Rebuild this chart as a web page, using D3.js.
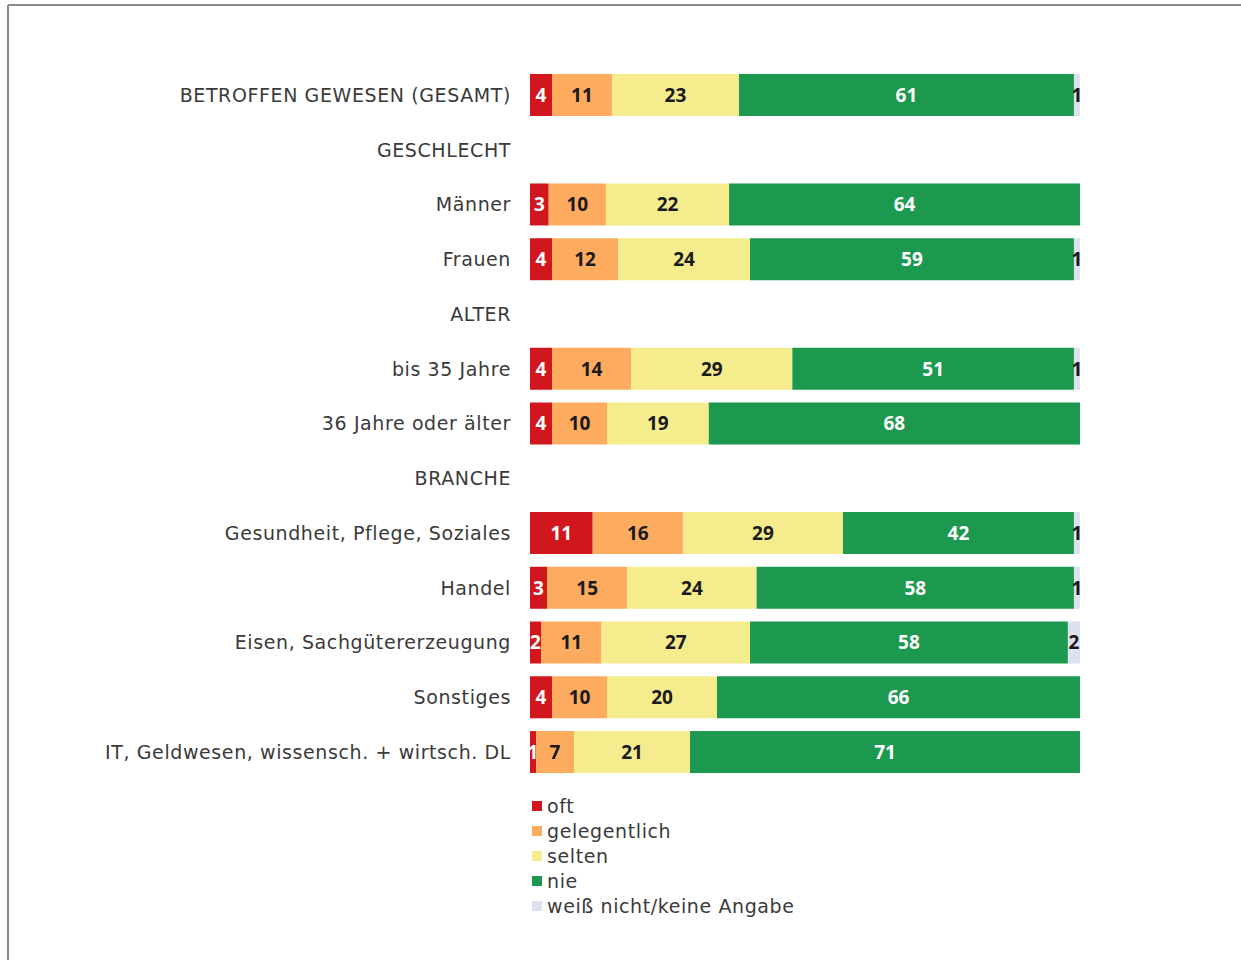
<!DOCTYPE html>
<html>
<head>
<meta charset="utf-8">
<script src="https://cdn.jsdelivr.net/npm/d3@7"></script>
<style>
  body { margin: 0; background: #fff; }
  svg text { font-family: "Open Sans", "DejaVu Sans", sans-serif; }
  svg text.cat { font-family: "DejaVu Sans", sans-serif; letter-spacing: 0.6px; }
</style>
</head>
<body>
<div id="chart"></div>
<script>
// rows of the chart, headers have no values
var categories = [
  'BETROFFEN GEWESEN (GESAMT)', 'GESCHLECHT', 'Männer', 'Frauen',
  'ALTER', 'bis 35 Jahre', '36 Jahre oder älter',
  'BRANCHE', 'Gesundheit, Pflege, Soziales', 'Handel',
  'Eisen, Sachgütererzeugung', 'Sonstiges', 'IT, Geldwesen, wissensch. + wirtsch. DL'
];
var headers = ['GESCHLECHT', 'ALTER', 'BRANCHE'];

var seriesNames = ['oft', 'gelegentlich', 'selten', 'nie', 'weiß nicht/keine Angabe'];

// percent values per series, one entry per category (null = header row)
var oft          = [4.0, null, 3.4, 4.0, null, 4.0, 4.0, null, 11.4, 3.1, 2.0, 4.0, 1.1];
var gelegentlich = [10.9, null, 10.4, 12.0, null, 14.4, 10.0, null, 16.4, 14.6, 11.0, 10.0, 6.9];
var selten       = [23.1, null, 22.4, 24.0, null, 29.3, 18.5, null, 29.1, 23.5, 27.0, 20.0, 21.1];
var nie          = [60.9, null, 63.8, 58.9, null, 51.2, 67.5, null, 42.0, 57.7, 57.8, 66.0, 70.9];
var weissNicht   = [1.1, null, 0, 1.1, null, 1.1, 0, null, 1.1, 1.1, 2.2, 0, 0];

var colors = ['#d1161d', '#fdab5e', '#f5ec8d', '#1d984f', '#dde1ef'];
var labelColors = ['#fff', '#1a1a1a', '#1a1a1a', '#fff', '#1a1a1a'];

var width = 1241, height = 960;

var svg = d3.select('#chart').append('svg')
    .attr('width', width)
    .attr('height', height);

// page frame
svg.append('line').attr('x1', 8).attr('x2', width).attr('y1', 5).attr('y2', 5)
    .attr('stroke', '#8a8a8a').attr('stroke-width', 2);
svg.append('line').attr('x1', 8).attr('x2', 8).attr('y1', 5).attr('y2', height)
    .attr('stroke', '#8a8a8a').attr('stroke-width', 2);

var x = d3.scaleLinear().domain([0, 100]).range([530, 1080]);
var y = d3.scaleBand().domain(categories).range([67.6, 779.4])
    .paddingInner(0.233).paddingOuter(0.1165);

var allSeries = [oft, gelegentlich, selten, nie, weissNicht];
var rows = categories.map(function (c, i) {
  var row = { cat: c };
  seriesNames.forEach(function (s, j) { row[s] = allSeries[j][i] || 0; });
  return row;
}).filter(function (r) { return headers.indexOf(r.cat) < 0; });

var stacked = d3.stack().keys(seriesNames)(rows);

var layers = svg.append('g').selectAll('g')
  .data(stacked)
  .enter().append('g')
    .attr('fill', function (d, i) { return colors[i]; });

layers.selectAll('rect')
  .data(function (d) { return d; })
  .enter().append('rect')
    .attr('x', function (d) { return x(d[0]); })
    .attr('y', function (d) { return y(d.data.cat); })
    .attr('width', function (d) { return x(d[1]) - x(d[0]); })
    .attr('height', y.bandwidth());

layers.each(function (layer, i) {
  d3.select(this).selectAll('text')
    .data(layer.filter(function (d) { return d[1] - d[0] > 0; }))
    .enter().append('text')
      .attr('x', function (d) { return (x(d[0]) + x(d[1])) / 2; })
      .attr('y', function (d) { return y(d.data.cat) + y.bandwidth() / 2; })
      .attr('dy', '0.36em')
      .attr('text-anchor', 'middle')
      .attr('fill', labelColors[i])
      .style('font-size', '19px')
      .style('font-weight', 'bold')
      .text(function (d) { return Math.round(d[1] - d[0]); });
});

// category labels
svg.append('g').selectAll('text')
  .data(categories)
  .enter().append('text')
    .attr('class', 'cat')
    .attr('x', 511)
    .attr('y', function (d) { return y(d) + y.bandwidth() / 2; })
    .attr('dy', '0.36em')
    .attr('text-anchor', 'end')
    .attr('fill', '#3a3a3a')
    .style('font-size', '19px')
    .text(function (d) { return d; });

// legend
var legend = svg.append('g').selectAll('g')
  .data(seriesNames)
  .enter().append('g')
    .attr('transform', function (d, i) { return 'translate(532,' + (806 + i * 25) + ')'; });

legend.append('rect')
    .attr('x', 0).attr('y', -5).attr('width', 10).attr('height', 10)
    .attr('fill', function (d, i) { return colors[i]; });

legend.append('text')
    .attr('class', 'cat')
    .attr('x', 15)
    .attr('dy', '0.36em')
    .attr('fill', '#3a3a3a')
    .style('font-size', '19px')
    .text(function (d) { return d; });
</script>
</body>
</html>
